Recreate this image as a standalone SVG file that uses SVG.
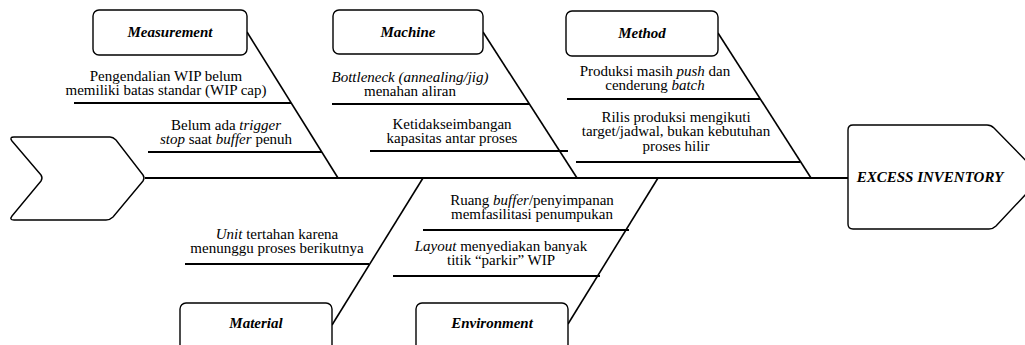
<svg xmlns="http://www.w3.org/2000/svg" width="1025" height="345" viewBox="0 0 1025 345" font-family="Liberation Serif, DejaVu Serif, serif">
  <style>
    text { font-family: "Liberation Serif", "DejaVu Serif", serif; font-size: 15px; fill: #000; }
    .cause { text-anchor: middle; }
    .title { text-anchor: middle; font-weight: bold; font-style: italic; }
    .box { fill: #fff; stroke: #000; stroke-width: 1.4; }
    .bone { stroke: #000; stroke-width: 1.6; fill: none; }
    .sub { stroke: #000; stroke-width: 2; fill: none; }
    .spine { stroke: #000; stroke-width: 2; fill: none; }
  </style>
  <rect width="1025" height="345" fill="#fff"/>

  <!-- connectors: spine, category bones and cause lines -->
  <g id="connectors">
    <line class="spine" x1="145" y1="178" x2="849" y2="178"/>
    <line class="bone" x1="247" y1="32" x2="338" y2="178"/>
    <line class="bone" x1="483" y1="32" x2="577" y2="178"/>
    <line class="bone" x1="718" y1="33" x2="811" y2="178"/>
    <line class="bone" x1="332" y1="325" x2="423" y2="178"/>
    <line class="bone" x1="568" y1="324" x2="658" y2="178"/>
    <line class="sub" x1="74" y1="103" x2="291" y2="103"/>
    <line class="sub" x1="148" y1="152" x2="322" y2="152"/>
    <line class="sub" x1="332" y1="104" x2="529" y2="104"/>
    <line class="sub" x1="370" y1="151" x2="568" y2="151"/>
    <line class="sub" x1="567" y1="99" x2="760" y2="99"/>
    <line class="sub" x1="576" y1="162" x2="800" y2="162"/>
    <line class="sub" x1="185" y1="264" x2="369" y2="264"/>
    <line class="sub" x1="423" y1="230" x2="629" y2="230"/>
    <line class="sub" x1="393" y1="276" x2="600" y2="276"/>
  </g>

  <!-- tail -->
  <g id="tail">
    <path class="box" d="M14 137 L110 137 Q113 137 116 140 L143 175 Q145 178 143 181 L113 217 Q110 220 106 220 L14 220 Q9 220 12 216 L41 181 Q43 178 41 175 L12 141 Q9 137 14 137 Z"/>
  </g>

  <!-- head -->
  <g id="head">
    <path class="box" d="M853 125 L987 125 Q991 125 994 128 L1042 177 L996 226 Q993 229 989 229 L853 229 Q848 229 848 224 L848 130 Q848 125 853 125 Z"/>
    <text class="title" x="930" y="182">EXCESS INVENTORY</text>
  </g>

  <!-- Measurement -->
  <g id="measurement">
    <rect class="box" x="93" y="10" width="154" height="45" rx="6"/>
    <text class="title" x="170" y="37">Measurement</text>
    <text class="cause" x="166" y="81">Pengendalian WIP belum</text>
    <text class="cause" x="166" y="95">memiliki batas standar (WIP cap)</text>
    <text class="cause" x="226" y="130">Belum ada <tspan font-style="italic">trigger</tspan></text>
    <text class="cause" x="226" y="144"><tspan font-style="italic">stop</tspan> saat <tspan font-style="italic">buffer</tspan> penuh</text>
  </g>

  <!-- Machine -->
  <g id="machine">
    <rect class="box" x="333" y="10" width="150" height="44" rx="6"/>
    <text class="title" x="408" y="37">Machine</text>
    <text class="cause" x="410" y="82" font-style="italic">Bottleneck (annealing/jig)</text>
    <text class="cause" x="410" y="96">menahan aliran</text>
    <text class="cause" x="452" y="129">Ketidakseimbangan</text>
    <text class="cause" x="452" y="143">kapasitas antar proses</text>
  </g>

  <!-- Method -->
  <g id="method">
    <rect class="box" x="566" y="11" width="152" height="45" rx="6"/>
    <text class="title" x="642" y="38">Method</text>
    <text class="cause" x="655" y="76">Produksi masih <tspan font-style="italic">push</tspan> dan</text>
    <text class="cause" x="655" y="90">cenderung <tspan font-style="italic">batch</tspan></text>
    <text class="cause" x="676" y="122">Rilis produksi mengikuti</text>
    <text class="cause" x="676" y="136">target/jadwal, bukan kebutuhan</text>
    <text class="cause" x="676" y="151">proses hilir</text>
  </g>

  <!-- Material -->
  <g id="material">
    <rect class="box" x="180" y="303" width="152" height="50" rx="6"/>
    <text class="title" x="256" y="328">Material</text>
    <text class="cause" x="277" y="239"><tspan font-style="italic">Unit</tspan> tertahan karena</text>
    <text class="cause" x="277" y="253">menunggu proses berikutnya</text>
  </g>

  <!-- Environment -->
  <g id="environment">
    <rect class="box" x="416" y="303" width="152" height="50" rx="6"/>
    <text class="title" x="492" y="328">Environment</text>
    <text class="cause" x="532" y="205">Ruang <tspan font-style="italic">buffer</tspan>/penyimpanan</text>
    <text class="cause" x="532" y="219">memfasilitasi penumpukan</text>
    <text class="cause" x="501" y="251"><tspan font-style="italic">Layout</tspan> menyediakan banyak</text>
    <text class="cause" x="501" y="265">titik “parkir” WIP</text>
  </g>
</svg>
